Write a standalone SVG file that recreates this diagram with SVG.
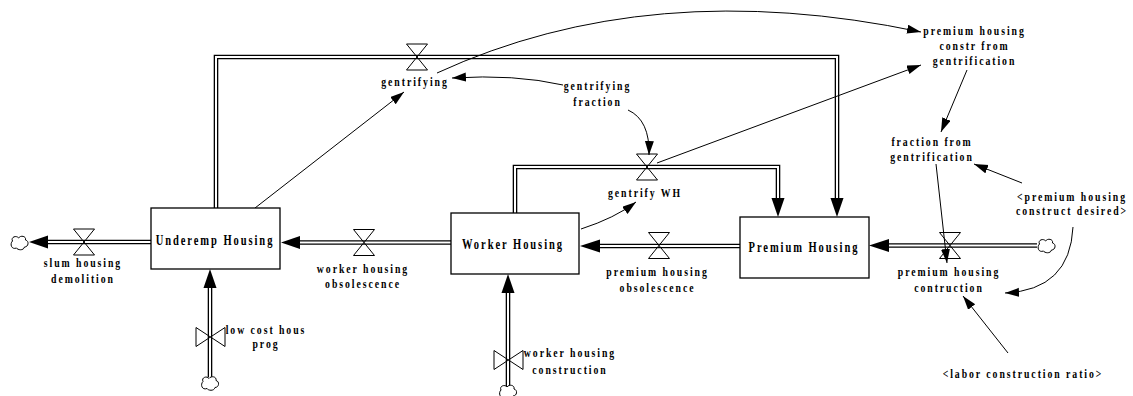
<svg xmlns="http://www.w3.org/2000/svg" width="1133" height="396" viewBox="0 0 1133 396">
  <style>
    .box { fill: #fff; stroke: #000; stroke-width: 1.3; }
    .pipe-o { fill: none; stroke: #000; stroke-width: 4.6; }
    .pipe-i { fill: none; stroke: #fff; stroke-width: 2; }
    .head { fill: #000; stroke: none; }
    .valve { fill: none; stroke: #000; stroke-width: 1; }
    .cloud { fill: #fff; stroke: #000; stroke-width: 1; }
    .link { fill: none; stroke: #000; stroke-width: 1; marker-end: url(#ah); }
    .lbl { font-family: "Liberation Serif", "Times New Roman", serif; font-weight: bold; font-size: 13px; letter-spacing: 2.6px; text-anchor: middle; fill: #000; }
    .nlbl { font-size: 14px; }
  </style>
  <defs>
    <marker id="ah" markerUnits="userSpaceOnUse" markerWidth="14" markerHeight="10" refX="14" refY="4.5" orient="auto">
      <path d="M0,0 L14,4.5 L0,9 Z" fill="#000"/>
    </marker>
    <path id="cloudShape" class="cloud" d="M-7,-2 C-9,-6 -3,-8 -1,-5 C1,-8 7,-7 6,-3 C10,-2 9,4 5,4 C4,8 -2,7 -3,5 C-8,7 -10,1 -7,-2 Z"/>
    <!-- valve for a horizontal pipe (hourglass) -->
    <path id="valveH" class="valve" d="M-10.5,-13 H10.5 L-10.5,13 H10.5 Z"/>
    <!-- valve for a vertical pipe (bow tie) -->
    <path id="valveV" class="valve" d="M-14.5,-9.5 V9.5 L14.5,-9.5 V9.5 Z"/>
  </defs>

  <!-- flow pipes -->
  <g id="flows">
    <path class="pipe-o" d="M151,242 H48"/>
    <path class="pipe-i" d="M151,242 H48"/>
    <polygon class="head" points="29,242 48,235.5 48,248.5"/>

    <path class="pipe-o" d="M451,242.5 H300"/>
    <path class="pipe-i" d="M451,242.5 H300"/>
    <polygon class="head" points="281,242.5 300,236 300,249"/>

    <path class="pipe-o" d="M740,246 H600"/>
    <path class="pipe-i" d="M740,246 H600"/>
    <polygon class="head" points="580,246 600,239.5 600,252.5"/>

    <path class="pipe-o" d="M1037,245.5 H889"/>
    <path class="pipe-i" d="M1037,245.5 H889"/>
    <polygon class="head" points="869,245.5 889,239 889,252"/>

    <path class="pipe-o" d="M216,208 V57 H837 V198"/>
    <path class="pipe-i" d="M216,208 V57 H837 V198"/>
    <polygon class="head" points="837,217 830.5,198 843.5,198"/>

    <path class="pipe-o" d="M515,213 V167 H778 V198"/>
    <path class="pipe-i" d="M515,213 V167 H778 V198"/>
    <polygon class="head" points="778,217 771.5,198 784.5,198"/>

    <path class="pipe-o" d="M210,377 V288"/>
    <path class="pipe-i" d="M210,377 V288"/>
    <polygon class="head" points="210,269 203.5,288 216.5,288"/>

    <path class="pipe-o" d="M508,386 V293"/>
    <path class="pipe-i" d="M508,386 V293"/>
    <polygon class="head" points="508,274 501.5,293 514.5,293"/>

    <use href="#cloudShape" x="19.5" y="243"/>
    <use href="#cloudShape" x="1046.5" y="246"/>
    <use href="#cloudShape" x="210" y="383.5"/>
    <use href="#cloudShape" x="508" y="392"/>
  </g>

  <!-- information links -->
  <g id="connectors">
    <path class="link" d="M255,208 L404,92"/>
    <path class="link" d="M437,73 Q650,-25 921,32"/>
    <path class="link" d="M563,85 Q515,74 452,78"/>
    <path class="link" d="M628,110 Q650,120 649,155"/>
    <path class="link" d="M581,229 Q615,218 636,202"/>
    <path class="link" d="M657,163 L921,65"/>
    <path class="link" d="M967,70 L941,132"/>
    <path class="link" d="M1022,183 L974,164"/>
    <path class="link" d="M936,164 L947,263"/>
    <path class="link" d="M1073,227 Q1070,290 1005,293"/>
    <path class="link" d="M1008,353 L963,296"/>
  </g>

  <!-- stocks -->
  <g id="underemp-housing">
    <rect class="box" x="151" y="208" width="129" height="61"/>
    <text class="lbl nlbl" transform="matrix(0.75 0 0 1 215 0)" y="245">Underemp Housing</text>
  </g>
  <g id="worker-housing">
    <rect class="box" x="451" y="213" width="128" height="61"/>
    <text class="lbl nlbl" transform="matrix(0.75 0 0 1 513 0)" y="249.5">Worker Housing</text>
  </g>
  <g id="premium-housing">
    <rect class="box" x="740" y="217" width="129" height="61"/>
    <text class="lbl nlbl" transform="matrix(0.75 0 0 1 804 0)" y="252">Premium Housing</text>
  </g>

  <!-- flow rates -->
  <g id="slum-housing-demolition">
    <use href="#valveH" x="84" y="242"/>
    <text class="lbl" transform="matrix(0.75 0 0 1 83 0)" y="267.5"><tspan x="0">slum housing</tspan><tspan x="0" y="283">demolition</tspan></text>
  </g>
  <g id="worker-housing-obsolescence">
    <use href="#valveH" x="364" y="242.5"/>
    <text class="lbl" transform="matrix(0.75 0 0 1 363 0)" y="273"><tspan x="0">worker housing</tspan><tspan x="0" y="288">obsolescence</tspan></text>
  </g>
  <g id="premium-housing-obsolescence">
    <use href="#valveH" x="659" y="245.5"/>
    <text class="lbl" transform="matrix(0.75 0 0 1 657.5 0)" y="276"><tspan x="0">premium housing</tspan><tspan x="0" y="292.5">obsolescence</tspan></text>
  </g>
  <g id="premium-housing-contruction">
    <use href="#valveH" x="950" y="245.5"/>
    <text class="lbl" transform="matrix(0.75 0 0 1 949 0)" y="276.5"><tspan x="0">premium housing</tspan><tspan x="0" y="292.5">contruction</tspan></text>
  </g>
  <g id="gentrifying">
    <use href="#valveH" x="417" y="57"/>
    <text class="lbl" transform="matrix(0.75 0 0 1 415 0)" y="86.5">gentrifying</text>
  </g>
  <g id="gentrify-wh">
    <use href="#valveH" x="647" y="167"/>
    <text class="lbl" transform="matrix(0.75 0 0 1 645 0)" y="197">gentrify WH</text>
  </g>
  <g id="low-cost-hous-prog">
    <use href="#valveV" x="210.5" y="337"/>
    <text class="lbl" transform="matrix(0.75 0 0 1 266 0)" y="334"><tspan x="0">low cost hous</tspan><tspan x="0" y="348.5">prog</tspan></text>
  </g>
  <g id="worker-housing-construction">
    <use href="#valveV" x="508.5" y="360"/>
    <text class="lbl" transform="matrix(0.75 0 0 1 570 0)" y="357"><tspan x="0">worker housing</tspan><tspan x="0" y="374">construction</tspan></text>
  </g>

  <!-- auxiliaries -->
  <g id="gentrifying-fraction">
    <text class="lbl" transform="matrix(0.75 0 0 1 597.5 0)" y="90"><tspan x="0">gentrifying</tspan><tspan x="0" y="106">fraction</tspan></text>
  </g>
  <g id="premium-housing-constr-from-gentrification">
    <text class="lbl" transform="matrix(0.75 0 0 1 974.5 0)" y="35.5"><tspan x="0">premium housing</tspan><tspan x="0" y="50">constr from</tspan><tspan x="0" y="65">gentrification</tspan></text>
  </g>
  <g id="fraction-from-gentrification">
    <text class="lbl" transform="matrix(0.75 0 0 1 932 0)" y="146"><tspan x="0">fraction from</tspan><tspan x="0" y="161">gentrification</tspan></text>
  </g>
  <g id="premium-housing-construct-desired">
    <text class="lbl" transform="matrix(0.75 0 0 1 1072 0)" y="201"><tspan x="0">&lt;premium housing</tspan><tspan x="0" y="215.5">construct desired&gt;</tspan></text>
  </g>
  <g id="labor-construction-ratio">
    <text class="lbl" transform="matrix(0.75 0 0 1 1023 0)" y="378.5">&lt;labor construction ratio&gt;</text>
  </g>
</svg>
